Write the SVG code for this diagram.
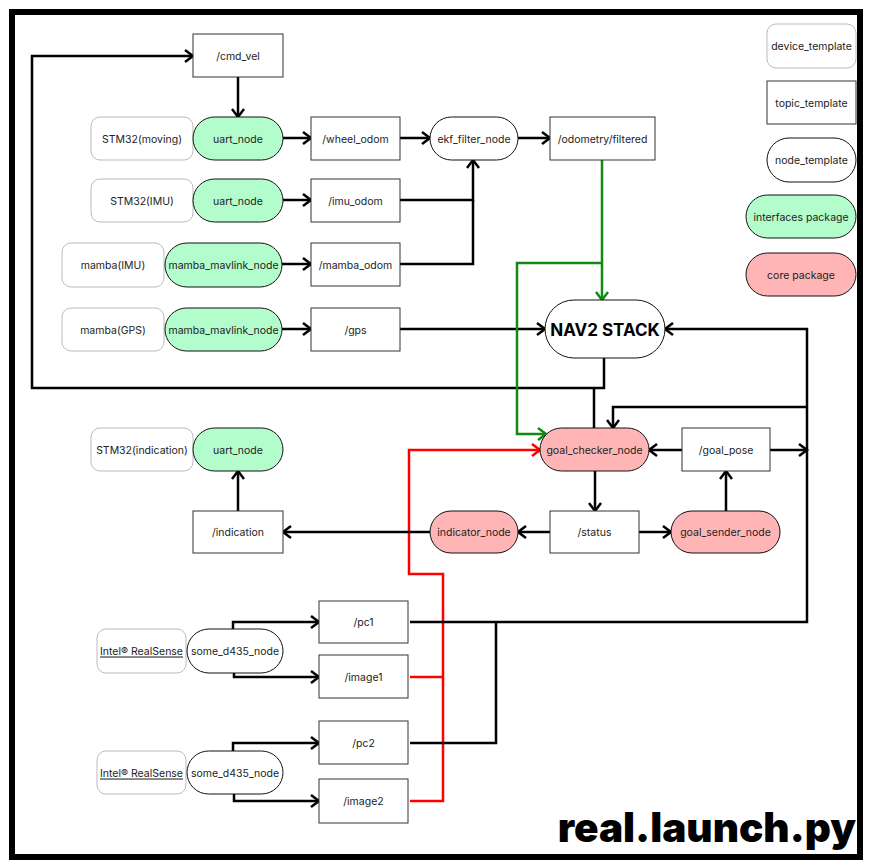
<svg xmlns="http://www.w3.org/2000/svg" width="869" height="866" viewBox="0 0 869 866">
<style>
text{font-family:Inter,"Liberation Sans",sans-serif;font-size:10.5px;fill:#222;text-anchor:middle;dominant-baseline:central}
.dev{fill:#fff;stroke:#bbb;stroke-width:1}
.topic{fill:#fff;stroke:#333;stroke-width:1}
.node{fill:#fff;stroke:#111;stroke-width:1}
.ifc{fill:#b3fccb;stroke:#111;stroke-width:1}
.core{fill:#ffb5b5;stroke:#111;stroke-width:1}
.c{fill:none;stroke:#000;stroke-width:2.5}
.g{fill:none;stroke:#128a12;stroke-width:2.5}
.r{fill:none;stroke:#ff0000;stroke-width:2.5}
</style>
<defs>
<marker id="a" viewBox="0 0 14 14" refX="11" refY="7" markerWidth="14" markerHeight="14" markerUnits="userSpaceOnUse" orient="auto"><path d="M3,1 L11,7 L3,13" fill="none" stroke="#000" stroke-width="2.5"/></marker>
<marker id="ag" viewBox="0 0 14 14" refX="11" refY="7" markerWidth="14" markerHeight="14" markerUnits="userSpaceOnUse" orient="auto"><path d="M3,1 L11,7 L3,13" fill="none" stroke="#128a12" stroke-width="2.5"/></marker>
<marker id="ar" viewBox="0 0 14 14" refX="11" refY="7" markerWidth="14" markerHeight="14" markerUnits="userSpaceOnUse" orient="auto"><path d="M3,1 L11,7 L3,13" fill="none" stroke="#ff0000" stroke-width="2.5"/></marker>
</defs>
<rect x="0" y="0" width="869" height="866" fill="#fff"/>
<rect x="12" y="12" width="848" height="845" fill="#fff" stroke="#000" stroke-width="6"/>

<g id="connectors">
<path class="c" d="M604,358 V388 H32 V56 H193" marker-end="url(#a)"/>
<path class="c" d="M594,428 V388"/>
<path class="c" d="M238,77 V117" marker-end="url(#a)"/>
<path class="c" d="M283,138 H311" marker-end="url(#a)"/>
<path class="c" d="M400,138 H430" marker-end="url(#a)"/>
<path class="c" d="M518,138 H550" marker-end="url(#a)"/>
<path class="c" d="M283,200 H311" marker-end="url(#a)"/>
<path class="c" d="M400,200 H473 V160" marker-end="url(#a)"/>
<path class="c" d="M400,264 H473 V200"/>
<path class="c" d="M282,264 H311" marker-end="url(#a)"/>
<path class="c" d="M282,329 H311" marker-end="url(#a)"/>
<path class="c" d="M400,329 H545" marker-end="url(#a)"/>
<path class="g" d="M602,160 V300" marker-end="url(#ag)"/>
<path class="g" d="M602,263 H517 V434 H546" marker-end="url(#ag)"/>
<path class="r" d="M410,677 H443"/>
<path class="r" d="M410,801 H443 V574 H409 V450 H540" marker-end="url(#ar)"/>
<path class="c" d="M410,622 H807 V329 H665" marker-end="url(#a)"/>
<path class="c" d="M807,407 H613 V428" marker-end="url(#a)"/>
<path class="c" d="M410,743 H496 V622"/>
<path class="c" d="M770,450 H807" marker-end="url(#a)"/>
<path class="c" d="M682,450 H649" marker-end="url(#a)"/>
<path class="c" d="M595,471 V511" marker-end="url(#a)"/>
<path class="c" d="M550,532 H518" marker-end="url(#a)"/>
<path class="c" d="M639,532 H671" marker-end="url(#a)"/>
<path class="c" d="M726,511 V471" marker-end="url(#a)"/>
<path class="c" d="M430,532 H283" marker-end="url(#a)"/>
<path class="c" d="M238,511 V471" marker-end="url(#a)"/>
<path class="c" d="M233,629 V622 H319" marker-end="url(#a)"/>
<path class="c" d="M234,673 V677 H319" marker-end="url(#a)"/>
<path class="c" d="M233,751 V743 H319" marker-end="url(#a)"/>
<path class="c" d="M234,794 V801 H319" marker-end="url(#a)"/>
</g>

<g id="cmd_vel"><rect class="topic" x="193" y="34" width="90" height="43"/><text x="238" y="56">/cmd_vel</text></g>

<g id="stm32_moving"><rect class="dev" x="91" y="117" width="102" height="43" rx="9"/><text x="142" y="139">STM32(moving)</text></g>
<g id="uart_node_1"><rect class="ifc" x="193" y="117" width="90" height="43" rx="21.5"/><text x="238" y="139">uart_node</text></g>
<g id="wheel_odom"><rect class="topic" x="311" y="117" width="89" height="43"/><text x="355.5" y="139">/wheel_odom</text></g>
<g id="ekf_filter_node"><rect class="node" x="430" y="117" width="88" height="43" rx="21.5"/><text x="474" y="139">ekf_filter_node</text></g>
<g id="odometry_filtered"><rect class="topic" x="550" y="117" width="105" height="43"/><text x="602.5" y="139">/odometry/filtered</text></g>

<g id="stm32_imu"><rect class="dev" x="91" y="179" width="102" height="43" rx="9"/><text x="142" y="201">STM32(IMU)</text></g>
<g id="uart_node_2"><rect class="ifc" x="193" y="179" width="90" height="43" rx="21.5"/><text x="238" y="201">uart_node</text></g>
<g id="imu_odom"><rect class="topic" x="311" y="179" width="89" height="43"/><text x="355.5" y="201">/imu_odom</text></g>

<g id="mamba_imu"><rect class="dev" x="62" y="243" width="102" height="44" rx="9"/><text x="113" y="265">mamba(IMU)</text></g>
<g id="mamba_mavlink_node_1"><rect class="ifc" x="165" y="243" width="117" height="44" rx="22"/><text x="223.5" y="265">mamba_mavlink_node</text></g>
<g id="mamba_odom"><rect class="topic" x="311" y="243" width="89" height="43"/><text x="355.5" y="265">/mamba_odom</text></g>

<g id="mamba_gps"><rect class="dev" x="62" y="308" width="102" height="43" rx="9"/><text x="113" y="330">mamba(GPS)</text></g>
<g id="mamba_mavlink_node_2"><rect class="ifc" x="165" y="308" width="117" height="43" rx="21.5"/><text x="223.5" y="330">mamba_mavlink_node</text></g>
<g id="gps"><rect class="topic" x="311" y="308" width="89" height="43"/><text x="355.5" y="330">/gps</text></g>

<g id="nav2_stack"><rect class="node" x="545" y="300" width="120" height="58" rx="29"/><text x="605" y="330" style="font-size:17px;font-weight:700;fill:#000">NAV2 STACK</text></g>

<g id="stm32_indication"><rect class="dev" x="91" y="428" width="102" height="43" rx="9"/><text x="142" y="450">STM32(indication)</text></g>
<g id="uart_node_3"><rect class="ifc" x="193" y="428" width="90" height="43" rx="21.5"/><text x="238" y="450">uart_node</text></g>
<g id="indication"><rect class="topic" x="193" y="511" width="90" height="42"/><text x="238" y="532">/indication</text></g>

<g id="goal_checker_node"><rect class="core" x="540" y="428" width="109" height="43" rx="21.5"/><text x="594.5" y="450">goal_checker_node</text></g>
<g id="goal_pose"><rect class="topic" x="682" y="428" width="88" height="43"/><text x="726" y="450">/goal_pose</text></g>
<g id="indicator_node"><rect class="core" x="430" y="511" width="88" height="42" rx="21"/><text x="474" y="532">indicator_node</text></g>
<g id="status"><rect class="topic" x="550" y="511" width="89" height="42"/><text x="594.5" y="532">/status</text></g>
<g id="goal_sender_node"><rect class="core" x="671" y="511" width="109" height="42" rx="21"/><text x="725.5" y="532">goal_sender_node</text></g>

<g id="realsense_1"><rect class="dev" x="97" y="629" width="89" height="44" rx="9"/><text x="141.5" y="651" text-decoration="underline">Intel® RealSense</text></g>
<g id="some_d435_node_1"><rect class="node" x="187" y="629" width="96" height="44" rx="22"/><text x="235" y="651">some_d435_node</text></g>
<g id="pc1"><rect class="topic" x="319" y="601" width="89" height="42"/><text x="363.5" y="622">/pc1</text></g>
<g id="image1"><rect class="topic" x="319" y="655" width="89" height="43"/><text x="363.5" y="677">/image1</text></g>

<g id="realsense_2"><rect class="dev" x="97" y="751" width="89" height="43" rx="9"/><text x="141.5" y="773" text-decoration="underline">Intel® RealSense</text></g>
<g id="some_d435_node_2"><rect class="node" x="187" y="751" width="96" height="43" rx="21.5"/><text x="235" y="773">some_d435_node</text></g>
<g id="pc2"><rect class="topic" x="319" y="721" width="89" height="43"/><text x="363.5" y="743">/pc2</text></g>
<g id="image2"><rect class="topic" x="319" y="779" width="89" height="44"/><text x="363.5" y="801">/image2</text></g>

<g id="legend_device"><rect class="dev" x="767" y="24" width="89" height="44" rx="9"/><text x="811.5" y="46">device_template</text></g>
<g id="legend_topic"><rect class="topic" x="767" y="81" width="89" height="43"/><text x="811.5" y="103">topic_template</text></g>
<g id="legend_node"><rect class="node" x="767" y="138" width="89" height="44" rx="22"/><text x="811.5" y="160">node_template</text></g>
<g id="legend_interfaces"><rect class="ifc" x="746" y="195" width="110" height="43" rx="21.5"/><text x="801" y="217">interfaces package</text></g>
<g id="legend_core"><rect class="core" x="746" y="253" width="110" height="43" rx="21.5"/><text x="801" y="275">core package</text></g>

<text x="856" y="842" style="font-size:40.5px;font-weight:900;fill:#000;text-anchor:end;dominant-baseline:alphabetic">real.launch.py</text>
</svg>
